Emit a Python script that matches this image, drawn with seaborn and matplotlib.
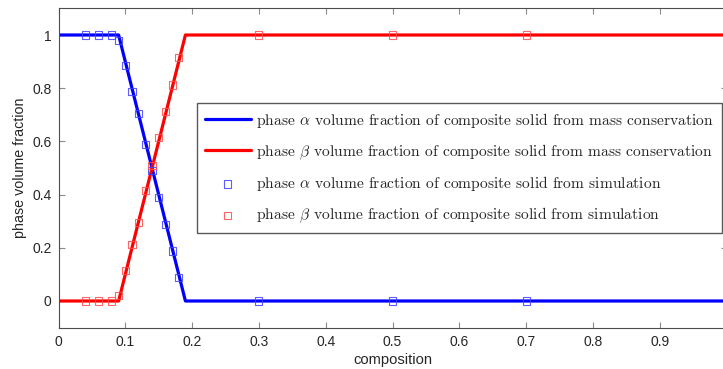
import matplotlib
matplotlib.use("Agg")
import matplotlib.pyplot as plt
import seaborn as sns

# Mass-conservation curves (piecewise linear breakpoints)
composition_line = [0.0, 0.09, 0.19, 1.0]
alpha_line = [1.0, 1.0, 0.0, 0.0]
beta_line = [0.0, 0.0, 1.0, 1.0]

# Simulation results
composition_sim = [0.04, 0.06, 0.08, 0.09, 0.10, 0.11, 0.12, 0.13, 0.14,
                   0.15, 0.16, 0.17, 0.18, 0.30, 0.50, 0.70]
alpha_sim = [1.0, 1.0, 1.0, 0.98, 0.887, 0.786, 0.706, 0.588, 0.49,
             0.388, 0.287, 0.188, 0.087, 0.0, 0.0, 0.0]
beta_sim = [0.0, 0.0, 0.0, 0.02, 0.113, 0.214, 0.294, 0.414, 0.51,
            0.614, 0.714, 0.812, 0.915, 1.0, 1.0, 1.0]

x_ticks = [0, 0.1, 0.2, 0.3, 0.4, 0.5, 0.6, 0.7, 0.8, 0.9]
x_tick_labels = ["0", "0.1", "0.2", "0.3", "0.4", "0.5", "0.6", "0.7", "0.8", "0.9"]
y_ticks = [0, 0.2, 0.4, 0.6, 0.8, 1.0]
y_tick_labels = ["0", "0.2", "0.4", "0.6", "0.8", "1"]

labels = [
    r"phase $\alpha$ volume fraction of composite solid from mass conservation",
    r"phase $\beta$ volume fraction of composite solid from mass conservation",
    r"phase $\alpha$ volume fraction of composite solid from simulation",
    r"phase $\beta$ volume fraction of composite solid from simulation",
]

sns.set_style("ticks")
plt.rcParams["font.family"] = ["Liberation Sans", "DejaVu Sans"]
plt.rcParams["mathtext.fontset"] = "cm"

fig = plt.figure(figsize=(7.23, 3.69), dpi=100)
ax = fig.add_axes([58.5 / 723, 41.4 / 369, 668 / 723, 319.2 / 369])

sns.lineplot(x=composition_line, y=alpha_line, color=(0, 0, 1), lw=2.3,
             label=labels[0], ax=ax)
sns.lineplot(x=composition_line, y=beta_line, color=(1, 0, 0), lw=2.3,
             label=labels[1], ax=ax)
sns.scatterplot(x=composition_sim, y=alpha_sim, marker="s", s=26,
                facecolor="none", edgecolor=(0.25, 0.25, 1.0), linewidth=0.8,
                alpha=0.85, label=labels[2], ax=ax, zorder=3)
sns.scatterplot(x=composition_sim, y=beta_sim, marker="s", s=26,
                facecolor="none", edgecolor=(1.0, 0.3, 0.3), linewidth=0.8,
                alpha=0.85, label=labels[3], ax=ax, zorder=3)

ax.set_xlim(0, 1.0)
ax.set_ylim(-0.1, 1.1)
ax.set_xticks(x_ticks)
ax.set_xticklabels(x_tick_labels)
ax.set_yticks(y_ticks)
ax.set_yticklabels(y_tick_labels)
ax.set_xlabel("composition", fontsize=10.6, labelpad=3)
ax.set_ylabel("phase volume fraction", fontsize=10.3, labelpad=4)

ax.tick_params(direction="in", length=4, width=0.8, color="0.55",
               labelsize=10, top=True, right=True, pad=5)
for side in ["left", "bottom", "top", "right"]:
    ax.spines[side].set_visible(True)
    ax.spines[side].set_color("0.3")
    ax.spines[side].set_linewidth(0.8)

leg = ax.legend(loc="upper left", bbox_to_anchor=(197 / 723, 1 - 103 / 369),
                bbox_transform=fig.transFigure, borderaxespad=0,
                fancybox=False, framealpha=1, edgecolor="0.35",
                prop={"family": "cmr10", "size": 11.2},
                handlelength=2.95, handletextpad=0.35, labelspacing=0.8,
                borderpad=0.5)
leg.get_frame().set_linewidth(1.0)

fig.savefig("out.png", dpi=100)
